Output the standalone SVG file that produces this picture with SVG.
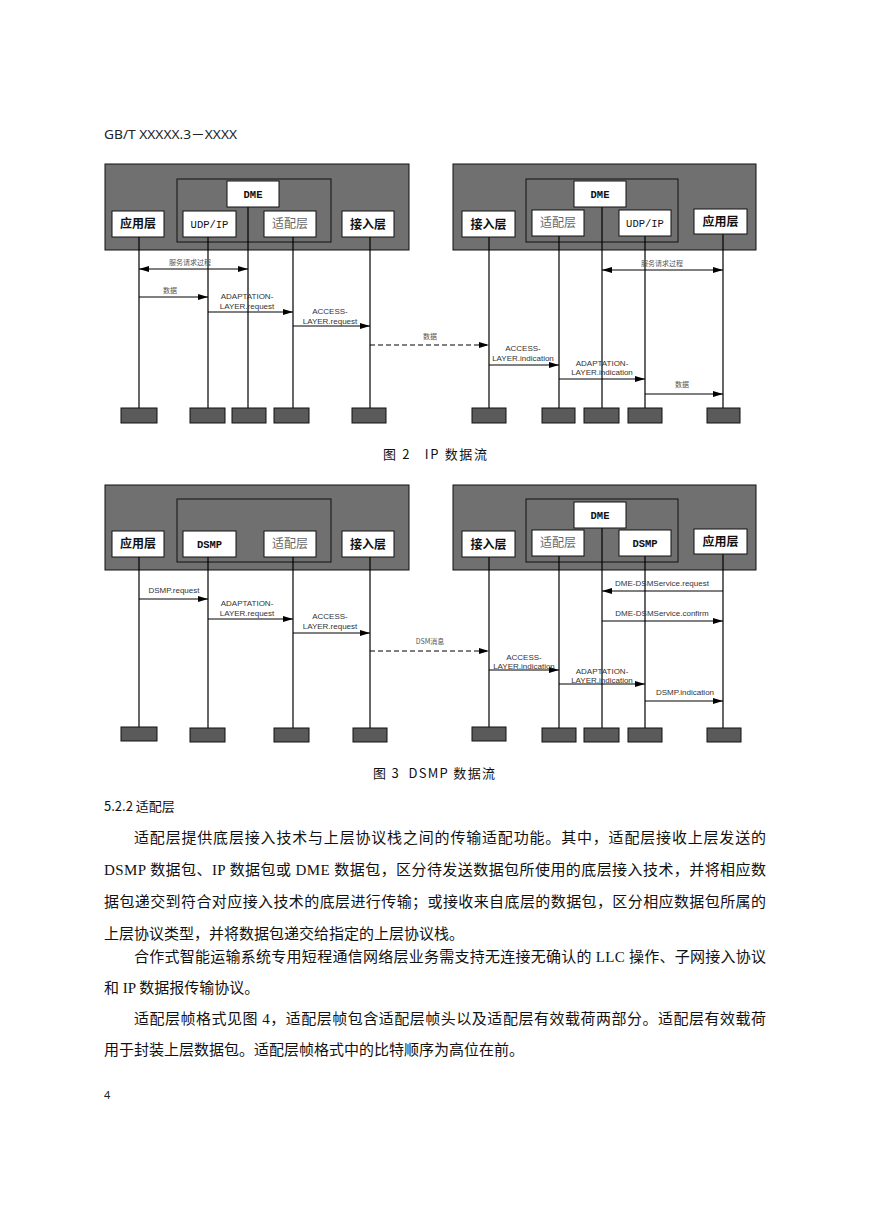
<svg xmlns="http://www.w3.org/2000/svg" width="869" height="1228" viewBox="0 0 869 1228">
<style>
.panel{fill:#707070;stroke:#111;stroke-width:1}
.frame{fill:none;stroke:#111;stroke-width:1}
.box{fill:#fff;stroke:#111;stroke-width:1}
.foot{fill:#5a5a5a;stroke:#111;stroke-width:1}
.life{stroke:#000;stroke-width:1.2;fill:none}
.msg{stroke:#000;stroke-width:1;fill:none;marker-end:url(#ah)}
.dmsg{stroke:#000;stroke-width:1;fill:none;stroke-dasharray:5 3;marker-end:url(#ah)}
.both{stroke:#000;stroke-width:1;fill:none;marker-end:url(#ah);marker-start:url(#ahs)}
.cn{font-family:"Noto Sans CJK SC",sans-serif;font-size:12px;fill:#111;text-anchor:middle}
.cnb{font-family:"Noto Sans CJK SC",sans-serif;font-size:12px;font-weight:bold;fill:#111;text-anchor:middle}
.cng{font-family:"Noto Sans CJK SC",sans-serif;font-size:12px;fill:#666;text-anchor:middle}
.mono{font-family:"Liberation Mono",monospace;font-size:10.5px;fill:#111;text-anchor:middle}
.monob{font-family:"Liberation Mono",monospace;font-size:10.5px;font-weight:bold;fill:#111;text-anchor:middle}
.lbl{font-family:"Liberation Sans",Arial,sans-serif;font-size:8px;fill:#333;text-anchor:middle}
.lblc{font-family:"Noto Sans CJK SC",sans-serif;font-size:7px;fill:#555;text-anchor:middle}
.cap{font-family:"Noto Sans CJK SC",sans-serif;font-size:13px;fill:#111}
.body{font-family:"Liberation Serif","Noto Sans CJK SC",serif;font-size:15px;fill:#111}
</style>
<defs>
<marker id="ah" markerUnits="userSpaceOnUse" markerWidth="10" markerHeight="6" refX="10" refY="3" orient="auto"><path d="M0,0 L10,3 L0,6 z" fill="#000"/></marker>
<marker id="ahs" markerUnits="userSpaceOnUse" markerWidth="10" markerHeight="6" refX="10" refY="3" orient="auto-start-reverse"><path d="M0,0 L10,3 L0,6 z" fill="#000"/></marker>
</defs>
<rect width="869" height="1228" fill="#fff"/>

<text x="104" y="139" font-family="'Noto Sans','Noto Sans CJK SC',sans-serif" font-size="13" fill="#222" textLength="133" lengthAdjust="spacingAndGlyphs">GB/T XXXXX.3－XXXX</text>

<!-- ===== Figure 2 ===== -->
<g id="fig2-left-panel">
<rect class="panel" x="105" y="164" width="304" height="86"/>
<rect class="frame" x="177" y="179" width="154" height="63"/>
</g>
<g id="fig2-right-panel">
<rect class="panel" x="453" y="164" width="303" height="86"/>
<rect class="frame" x="526" y="179" width="152" height="63"/>
</g>

<g id="connectors-fig2">
<line class="life" x1="139" y1="237" x2="139" y2="408"/>
<line class="life" x1="208" y1="237" x2="208" y2="408"/>
<line class="life" x1="248" y1="207" x2="248" y2="408"/>
<line class="life" x1="293" y1="237" x2="293" y2="408"/>
<line class="life" x1="370" y1="237" x2="370" y2="408"/>
<line class="life" x1="489" y1="237" x2="489" y2="408"/>
<line class="life" x1="559" y1="236" x2="559" y2="408"/>
<line class="life" x1="602" y1="207" x2="602" y2="408"/>
<line class="life" x1="645" y1="236" x2="645" y2="408"/>
<line class="life" x1="723" y1="234" x2="723" y2="408"/>

<line class="both" x1="139" y1="269" x2="248" y2="269"/>
<text class="lblc" x="190" y="265">服务请求过程</text>
<line class="msg" x1="139" y1="297" x2="208" y2="297"/>
<text class="lblc" x="170" y="293">数据</text>
<line class="msg" x1="208" y1="312" x2="293" y2="312"/>
<text class="lbl" x="247" y="299">ADAPTATION-</text>
<text class="lbl" x="247" y="309">LAYER.request</text>
<line class="msg" x1="293" y1="326" x2="370" y2="326"/>
<text class="lbl" x="330" y="314">ACCESS-</text>
<text class="lbl" x="330" y="324">LAYER.request</text>
<line class="dmsg" x1="370" y1="345" x2="489" y2="345"/>
<text class="lblc" x="430" y="339">数据</text>
<line class="msg" x1="489" y1="365" x2="559" y2="365"/>
<text class="lbl" x="523" y="351">ACCESS-</text>
<text class="lbl" x="523" y="361">LAYER.indication</text>
<line class="msg" x1="559" y1="379" x2="645" y2="379"/>
<text class="lbl" x="602" y="366">ADAPTATION-</text>
<text class="lbl" x="602" y="375">LAYER.indication</text>
<line class="msg" x1="645" y1="394" x2="723" y2="394"/>
<text class="lblc" x="682" y="387">数据</text>
<line class="both" x1="602" y1="270" x2="723" y2="270"/>
<text class="lblc" x="662" y="266">服务请求过程</text>
</g>

<g id="f2-app-l"><rect class="box" x="112" y="211" width="52" height="26"/><text class="cnb" x="138" y="228">应用层</text></g>
<g id="f2-udp-l"><rect class="box" x="183" y="211" width="53" height="26"/><text class="mono" x="209.5" y="228">UDP/IP</text></g>
<g id="f2-dme-l"><rect class="box" x="227" y="181" width="52" height="26"/><text class="monob" x="253" y="198">DME</text></g>
<g id="f2-adp-l"><rect class="box" x="264" y="211" width="52" height="26"/><text class="cng" x="290" y="228">适配层</text></g>
<g id="f2-acc-l"><rect class="box" x="342" y="211" width="52" height="26"/><text class="cnb" x="368" y="229">接入层</text></g>

<g id="f2-acc-r"><rect class="box" x="462" y="211" width="53" height="26"/><text class="cnb" x="488.5" y="229">接入层</text></g>
<g id="f2-adp-r"><rect class="box" x="532" y="210" width="52" height="26"/><text class="cng" x="558" y="227">适配层</text></g>
<g id="f2-dme-r"><rect class="box" x="574" y="181" width="52" height="26"/><text class="monob" x="600" y="198">DME</text></g>
<g id="f2-udp-r"><rect class="box" x="619" y="210" width="52" height="26"/><text class="mono" x="645" y="227">UDP/IP</text></g>
<g id="f2-app-r"><rect class="box" x="694" y="209" width="53" height="25"/><text class="cnb" x="720.5" y="226">应用层</text></g>

<g id="f2-feet">
<rect class="foot" x="121" y="408" width="36" height="15"/>
<rect class="foot" x="190" y="408" width="35" height="15"/>
<rect class="foot" x="232" y="408" width="34" height="15"/>
<rect class="foot" x="274" y="408" width="35" height="15"/>
<rect class="foot" x="352" y="408" width="34" height="15"/>
<rect class="foot" x="472" y="408" width="34" height="15"/>
<rect class="foot" x="542" y="408" width="33" height="15"/>
<rect class="foot" x="584" y="408" width="35" height="15"/>
<rect class="foot" x="628" y="408" width="34" height="15"/>
<rect class="foot" x="707" y="408" width="33" height="15"/>
</g>

<text class="cap" x="383" y="459" xml:space="preserve" textLength="104" lengthAdjust="spacing">图 2   IP 数据流</text>

<!-- ===== Figure 3 ===== -->
<g id="fig3-left-panel">
<rect class="panel" x="105" y="485" width="304" height="85"/>
<rect class="frame" x="177" y="499" width="154" height="63"/>
</g>
<g id="fig3-right-panel">
<rect class="panel" x="453" y="485" width="303" height="85"/>
<rect class="frame" x="526" y="499" width="152" height="63"/>
</g>

<g id="connectors-fig3">
<line class="life" x1="139" y1="557" x2="139" y2="727"/>
<line class="life" x1="208" y1="557" x2="208" y2="728"/>
<line class="life" x1="293" y1="557" x2="293" y2="728"/>
<line class="life" x1="370" y1="557" x2="370" y2="728"/>
<line class="life" x1="489" y1="557" x2="489" y2="727"/>
<line class="life" x1="559" y1="556" x2="559" y2="728"/>
<line class="life" x1="602" y1="528" x2="602" y2="728"/>
<line class="life" x1="645" y1="556" x2="645" y2="728"/>
<line class="life" x1="723" y1="554" x2="723" y2="728"/>

<line class="msg" x1="139" y1="599" x2="208" y2="599"/>
<text class="lbl" x="174" y="593">DSMP.request</text>
<line class="msg" x1="208" y1="619" x2="293" y2="619"/>
<text class="lbl" x="247" y="606">ADAPTATION-</text>
<text class="lbl" x="247" y="616">LAYER.request</text>
<line class="msg" x1="293" y1="633" x2="370" y2="633"/>
<text class="lbl" x="330" y="619">ACCESS-</text>
<text class="lbl" x="330" y="629">LAYER.request</text>
<line class="dmsg" x1="370" y1="651" x2="489" y2="651"/>
<text class="lblc" x="430" y="644">DSM消息</text>
<line class="msg" x1="489" y1="670" x2="559" y2="670"/>
<text class="lbl" x="524" y="660">ACCESS-</text>
<text class="lbl" x="524" y="669">LAYER.indication</text>
<line class="msg" x1="559" y1="684" x2="645" y2="684"/>
<text class="lbl" x="602" y="674">ADAPTATION-</text>
<text class="lbl" x="602" y="683">LAYER.indication</text>
<line class="msg" x1="645" y1="701" x2="723" y2="701"/>
<text class="lbl" x="685" y="695">DSMP.indication</text>
<line class="msg" x1="723" y1="591" x2="602" y2="591"/>
<text class="lbl" x="662" y="586">DME-DSMService.request</text>
<line class="msg" x1="602" y1="621" x2="723" y2="621"/>
<text class="lbl" x="662" y="616">DME-DSMService.confirm</text>
</g>

<g id="f3-app-l"><rect class="box" x="112" y="531" width="52" height="26"/><text class="cnb" x="138" y="548">应用层</text></g>
<g id="f3-dsmp-l"><rect class="box" x="183" y="531" width="53" height="26"/><text class="monob" x="209.5" y="548">DSMP</text></g>
<g id="f3-adp-l"><rect class="box" x="264" y="531" width="52" height="26"/><text class="cng" x="290" y="548">适配层</text></g>
<g id="f3-acc-l"><rect class="box" x="342" y="531" width="52" height="26"/><text class="cnb" x="368" y="549">接入层</text></g>

<g id="f3-acc-r"><rect class="box" x="462" y="531" width="53" height="26"/><text class="cnb" x="488.5" y="549">接入层</text></g>
<g id="f3-adp-r"><rect class="box" x="532" y="530" width="52" height="26"/><text class="cng" x="558" y="547">适配层</text></g>
<g id="f3-dme-r"><rect class="box" x="574" y="502" width="52" height="26"/><text class="monob" x="600" y="519">DME</text></g>
<g id="f3-dsmp-r"><rect class="box" x="619" y="530" width="52" height="26"/><text class="monob" x="645" y="547">DSMP</text></g>
<g id="f3-app-r"><rect class="box" x="694" y="529" width="53" height="25"/><text class="cnb" x="720.5" y="546">应用层</text></g>

<g id="f3-feet">
<rect class="foot" x="121" y="727" width="36" height="14"/>
<rect class="foot" x="190" y="728" width="35" height="14"/>
<rect class="foot" x="274" y="728" width="35" height="14"/>
<rect class="foot" x="353" y="728" width="34" height="14"/>
<rect class="foot" x="472" y="727" width="34" height="14"/>
<rect class="foot" x="542" y="728" width="34" height="14"/>
<rect class="foot" x="584" y="728" width="35" height="14"/>
<rect class="foot" x="628" y="728" width="34" height="14"/>
<rect class="foot" x="707" y="728" width="34" height="14"/>
</g>

<text class="cap" x="373" y="778" xml:space="preserve" textLength="122" lengthAdjust="spacing">图 3  DSMP 数据流</text>

<!-- ===== Body text ===== -->
<text x="104" y="811" font-family="'Noto Sans CJK SC',sans-serif" font-size="13" fill="#111">5.2.2 适配层</text>
<text class="body" x="134" y="843" textLength="632" lengthAdjust="spacing">适配层提供底层接入技术与上层协议栈之间的传输适配功能。其中，适配层接收上层发送的</text>
<text class="body" x="104" y="875" textLength="662" lengthAdjust="spacing">DSMP 数据包、IP 数据包或 DME 数据包，区分待发送数据包所使用的底层接入技术，并将相应数</text>
<text class="body" x="104" y="907" textLength="662" lengthAdjust="spacing">据包递交到符合对应接入技术的底层进行传输；或接收来自底层的数据包，区分相应数据包所属的</text>
<text class="body" x="104" y="939">上层协议类型，并将数据包递交给指定的上层协议栈。</text>
<text class="body" x="134" y="962" textLength="632" lengthAdjust="spacing">合作式智能运输系统专用短程通信网络层业务需支持无连接无确认的 LLC 操作、子网接入协议</text>
<text class="body" x="104" y="993">和 IP 数据报传输协议。</text>
<text class="body" x="134" y="1024" textLength="632" lengthAdjust="spacing">适配层帧格式见图 4，适配层帧包含适配层帧头以及适配层有效载荷两部分。适配层有效载荷</text>
<text class="body" x="104" y="1055">用于封装上层数据包。适配层帧格式中的比特顺序为高位在前。</text>

<text x="104" y="1099" font-family="'Noto Sans',sans-serif" font-size="11" fill="#222">4</text>
</svg>
